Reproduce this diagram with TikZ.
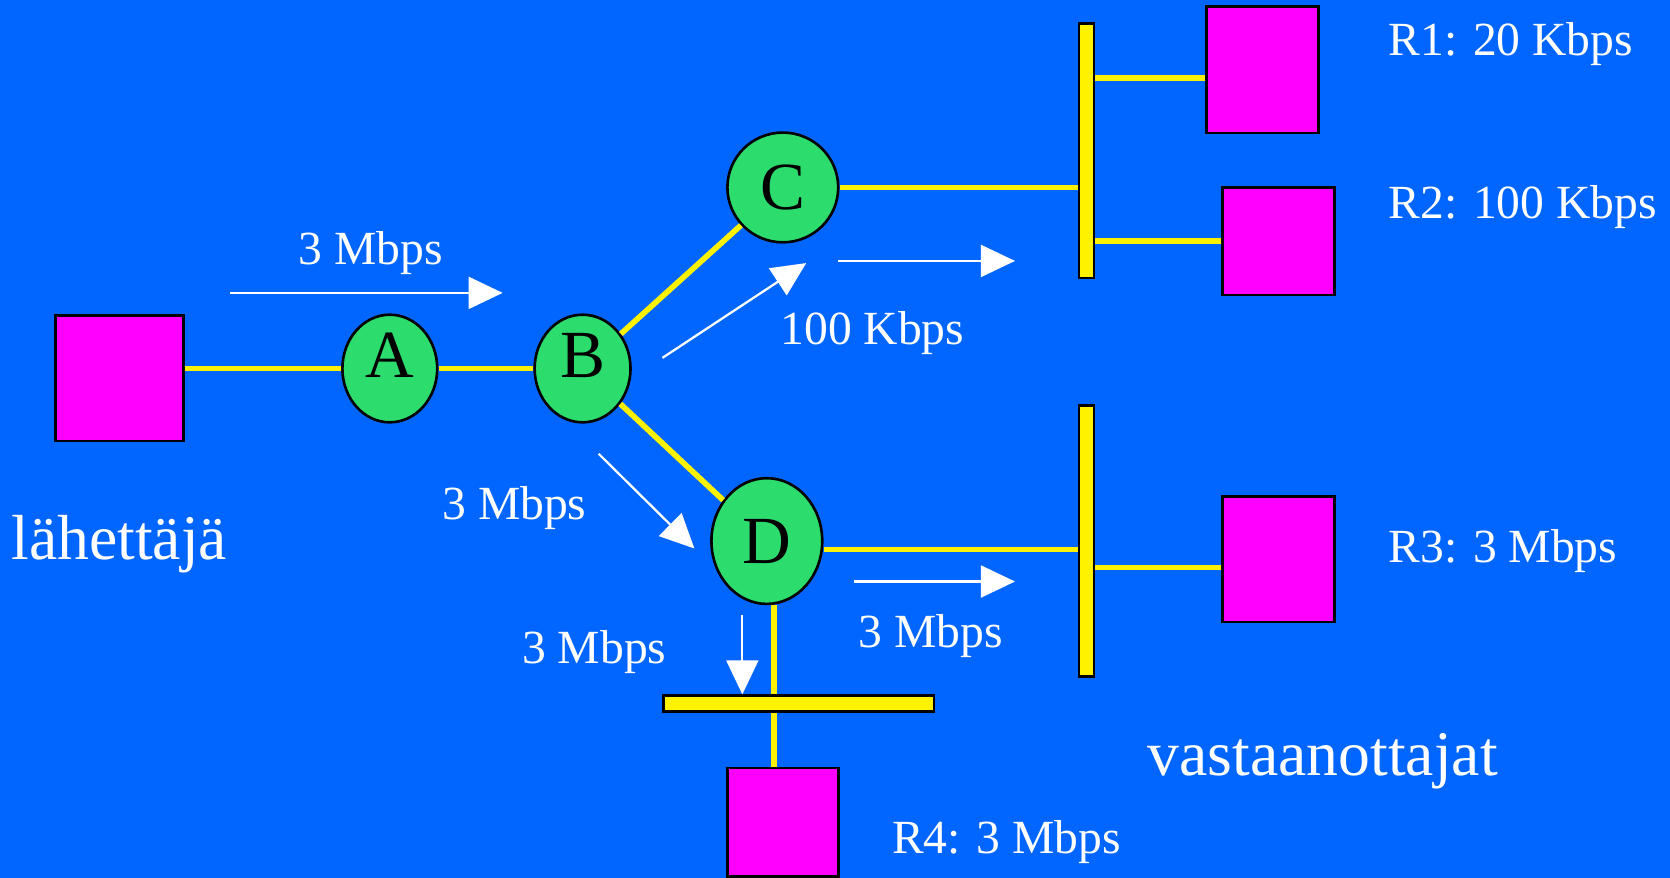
\documentclass[tikz,border=0pt]{standalone}
\usepackage{fontspec}
\setmainfont{Liberation Serif}
\usetikzlibrary{shapes.geometric,arrows.meta}

\definecolor{slideblue}{RGB}{0,102,255}
\definecolor{routergreen}{RGB}{44,221,110}
\definecolor{hostpink}{RGB}{255,0,255}

\tikzset{
  host/.style={rectangle, draw=black, line width=0.7pt, fill=hostpink, inner sep=0pt},
  router/.style={ellipse, draw=black, line width=0.7pt, fill=routergreen, inner sep=0pt,
    font=\fontsize{18}{21}\selectfont, text height=4.2mm, text depth=0pt},
  bus/.style={rectangle, draw=black, line width=0.7pt, fill=yellow, inner sep=0pt},
  link/.style={yellow, line width=1.5pt},
  flow/.style={white, line width=0.6pt, -{Triangle[length=3.2mm,width=3mm]}},
  rate/.style={text=white, inner sep=0pt, anchor=base, font=\fontsize{12.7}{15}\selectfont},
  bigtext/.style={text=white, inner sep=0pt, anchor=base, font=\fontsize{17}{20}\selectfont}
}

\begin{document}
\begin{tikzpicture}[x=0.01cm, y=-0.01cm]
      % Background
      \fill[slideblue] (0,0) rectangle (1568,824);
      \useasboundingbox (0,0) rectangle (1568,824);

      % Sender and routers
      \node[host, minimum width=1.2cm, minimum height=1.18cm] (lah) at (112,355) {};
      \node[router, minimum width=0.89cm, minimum height=1.01cm, text depth=2.6mm] (A) at (366,346) {A};
      \node[router, minimum width=0.9cm, minimum height=1.01cm, text depth=2.6mm] (B) at (547,346) {B};
      \node[router, minimum width=1.04cm, minimum height=1.03cm] (C) at (735,176) {C};
      \node[router, minimum width=1.04cm, minimum height=1.18cm] (D) at (720,508) {D};

      % Buses
      \node[bus, minimum width=0.14cm, minimum height=2.39cm] (bus1) at (1020,141.5) {};
      \node[bus, minimum width=0.14cm, minimum height=2.54cm] (bus2) at (1020,508) {};
      \node[bus, minimum width=2.54cm, minimum height=0.15cm] (bus3) at (750,660.5) {};

      % Receivers
      \node[host, minimum width=1.05cm, minimum height=1.19cm] (R1) at (1185.5,65.5) {};
      \node[host, minimum width=1.05cm, minimum height=1.01cm] (R2) at (1200.5,226.5) {};
      \node[host, minimum width=1.05cm, minimum height=1.18cm] (R3) at (1200.5,525) {};
      \node[host, minimum width=1.04cm, minimum height=1.02cm] (R4) at (735,772) {};

      % Links
      \draw[link] (A.west -| lah.east) -- (A.west);
      \draw[link] (A) -- (B);
      \draw[link] (B) -- (C);
      \draw[link] (B) -- (D);
      \draw[link] (C.east) -- (C.east -| bus1.west);
      \draw[link] ([yshift=-0.75mm]R1.west) -- ([yshift=-0.75mm]R1.west -| bus1.east);
      \draw[link] (R2.west) -- (R2.west -| bus1.east);
      \draw[link] ([yshift=-0.8mm]D.east) -- ([yshift=-0.8mm]D.east -| bus2.west);
      \draw[link] ([yshift=-0.8mm]R3.west) -- ([yshift=-0.8mm]R3.west -| bus2.east);
      \draw[link] ([xshift=0.7mm]D.south) -- ([xshift=0.7mm]D.south |- bus3.north);
      \draw[link] ([xshift=-0.8mm]R4.north) -- ([xshift=-0.8mm]R4.north |- bus3.south);

      % Flow arrows
      \coordinate (f1a) at (216,275);  \coordinate (f1b) at (472,275);
      \coordinate (f2a) at (622,336);  \coordinate (f2b) at (757,247);
      \coordinate (f3a) at (787,245);  \coordinate (f3b) at (953,245);
      \coordinate (f4a) at (562,426);  \coordinate (f4b) at (652,515);
      \coordinate (f5a) at (802,546);  \coordinate (f5b) at (953,546);
      \coordinate (f6a) at (697,577);  \coordinate (f6b) at (697,652);
      \draw[flow] (f1a) -- (f1b);
      \draw[flow] (f2a) -- (f2b);
      \draw[flow] (f3a) -- (f3b);
      \draw[flow] (f4a) -- (f4b);
      \draw[flow] (f5a) -- (f5b);
      \draw[flow] (f6a) -- (f6b);

      % Rates
      \node[rate] (rAB) at (348,248) {3 Mbps};
      \node[rate] (rBC) at (819,323) {100 Kbps};
      \node[rate] (rBD) at (483,488) {3 Mbps};
      \node[rate] (rD4) at (558,623) {3 Mbps};
      \node[rate] (rD3) at (874,608) {3 Mbps};
      \node[rate, anchor=base west] (tR1) at (1303,52) {R1: 20 Kbps};
      \node[rate, anchor=base west] (tR2) at (1303,205) {R2: 100 Kbps};
      \node[rate, anchor=base west] (tR3) at (1303,528) {R3: 3 Mbps};
      \node[rate, anchor=base west] (tR4) at (837,801) {R4: 3 Mbps};

      % Sender / receivers
      \node[bigtext] (tlah) at (112,525) {lähettäjä};
      \node[bigtext] (tvas) at (1242,728) {vastaanottajat};
\end{tikzpicture}
\end{document}
